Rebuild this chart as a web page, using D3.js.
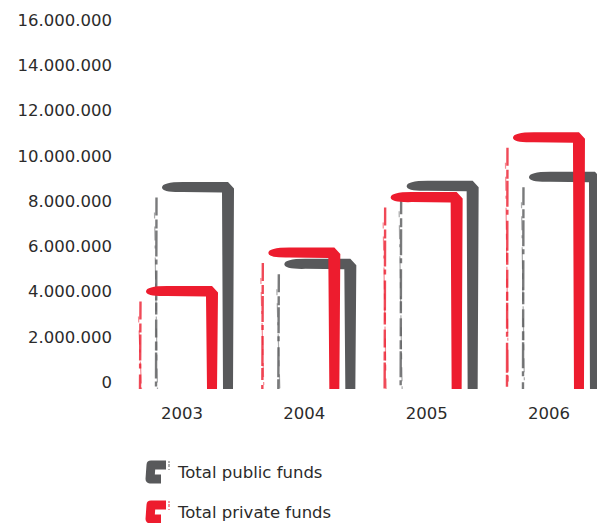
<!DOCTYPE html>
<html>
<head>
<meta charset="utf-8">
<script src="https://cdn.jsdelivr.net/npm/d3@7/dist/d3.min.js"></script>
<style>
  body { margin: 0; background: #fff; }
  text { font-family: "DejaVu Sans", sans-serif; fill: #2b2b2b; }
</style>
</head>
<body>
<script>
const width = 597;
const height = 523;

const years = ["2003", "2004", "2005", "2006"];
const publicFunds = [8600000, 5200000, 8650000, 9050000];
const privateFunds = [4000000, 5700000, 8150000, 10800000];
const yTicks = [0, 2000000, 4000000, 6000000, 8000000, 10000000, 12000000, 14000000, 16000000];

const grey = "#58595b";
const red = "#ed1c2e";

const series = [
    {name: "Total public funds", values: publicFunds, color: grey, shift: 16},
    {name: "Total private funds", values: privateFunds, color: red, shift: 0}
];

const svg = d3.select("body").append("svg")
    .attr("width", width).attr("height", height);

const x = d3.scaleBand().domain(years).range([139, 602]).paddingInner(0.215);
const y = d3.scaleLinear().domain([0, 16000000]).range([382, 20]);
const base = y(0) + 7;

const locale = d3.formatLocale({decimal: ",", thousands: ".", grouping: [3], currency: ["", "€"]});
const yAxis = d3.axisLeft(y).tickValues(yTicks).tickSize(0).tickPadding(0).tickFormat(locale.format(","));

svg.append("g").attr("transform", "translate(112,0)").call(yAxis)
    .call(g => g.select(".domain").remove())
    .selectAll("text").style("font-size", "16.5px").attr("fill", "#2b2b2b");

const xAxis = d3.axisBottom(x).tickSize(0).tickPadding(0);
svg.append("g").attr("transform", "translate(-5,407)").call(xAxis)
    .call(g => g.select(".domain").remove())
    .selectAll("text").style("font-size", "16.5px").attr("fill", "#2b2b2b");

// brush-stroke bar: top stroke + right leg, dry-brush left edge
function barPath(L, yT) {
    return `M${L + 7},${yT} Q${L + 7},${yT - 5.5} ${L + 28},${yT - 5.5} L${L + 73},${yT - 5.5}` +
        ` L${L + 79},${yT + 1} L${L + 78},${base} L${L + 68},${base} L${L + 67},${yT + 5}` +
        ` L${L + 28},${yT + 4.5} Q${L + 7},${yT + 5} ${L + 7},${yT} Z`;
}

series.forEach(s => {
    const g = svg.append("g");
    const rows = years.map((yr, i) => ({L: x(yr) + s.shift, yT: y(s.values[i])}));

    g.selectAll("line.dry1").data(rows).enter().append("line")
        .attr("x1", d => d.L + 1.5).attr("x2", d => d.L + 1)
        .attr("y1", d => d.yT + 10).attr("y2", base)
        .attr("stroke", s.color).attr("stroke-width", 2.4).attr("opacity", 0.8)
        .attr("stroke-dasharray", "18 4 9 2 26 3 5 6 30 2 12 5");
    g.selectAll("line.dry2").data(rows).enter().append("line")
        .attr("x1", d => d.L - 0.5).attr("x2", d => d.L + 2.5)
        .attr("y1", d => d.yT + 25).attr("y2", base)
        .attr("stroke", s.color).attr("stroke-width", 1.2).attr("opacity", 0.5)
        .attr("stroke-dasharray", "6 8 14 5 3 9 22 4");

    g.selectAll("path").data(rows).enter().append("path")
        .attr("d", d => barPath(d.L, d.yT))
        .attr("fill", s.color);
});

// legend
const legend = svg.append("g");
series.forEach((s, i) => {
    const cy = 472 + i * 40;
    legend.append("path")
        .attr("d", `M166,${cy - 7} L151,${cy - 7} L150,${cy + 7} L161,${cy + 7}`)
        .attr("fill", "none").attr("stroke", s.color)
        .attr("stroke-width", 9).attr("stroke-linejoin", "round");
    legend.append("line")
        .attr("x1", 169).attr("x2", 169).attr("y1", cy - 11).attr("y2", cy - 2)
        .attr("stroke", s.color).attr("stroke-width", 1.5).attr("stroke-dasharray", "2 1 3 2")
        .attr("opacity", 0.6);
    legend.append("text")
        .attr("x", 178).attr("y", cy + 1)
        .attr("dominant-baseline", "middle")
        .style("font-size", "16.5px")
        .text(s.name);
});
</script>
</body>
</html>
